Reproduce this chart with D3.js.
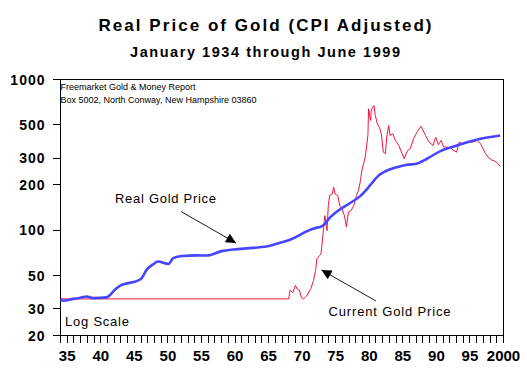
<!DOCTYPE html>
<html>
<head>
<meta charset="utf-8">
<script src="https://cdn.jsdelivr.net/npm/d3@7"></script>
<style>
  html, body { margin: 0; padding: 0; background: #fff; }
  svg { display: block; font-family: "Liberation Sans", Arial, sans-serif; }
</style>
</head>
<body>
<svg id="chart" width="527" height="382"></svg>
<script>
// ---- Data ----
const realYears = [1934.0, 1934.4, 1935.9, 1936.8, 1937.9, 1938.8, 1940.9, 1941.4, 1941.9, 1942.9,
  1943.8, 1945.6, 1946.1, 1946.8, 1947.8, 1948.5, 1950.1, 1950.8, 1952.1, 1954.3,
  1955.8, 1958.0, 1959.8, 1962.7, 1965.2, 1966.2, 1968.2, 1969.7, 1970.2, 1972.2,
  1972.7, 1973.4, 1973.9, 1974.9, 1975.7, 1977.2, 1978.7, 1979.9, 1981.4, 1982.4,
  1984.1, 1985.6, 1986.9, 1988.6, 1990.6, 1992.6, 1994.6, 1996.6, 1999.5];
const realValues = [35, 34, 35, 35.5, 36.3, 35.4, 35.8, 37.2, 39.4, 42.9,
  44.2, 46.4, 48.1, 54.3, 59.3, 61.9, 59.7, 65.3, 67.4, 68,
  67.9, 72.6, 74.4, 76.3, 78.8, 81.3, 86.5, 93, 96, 104,
  105, 110, 118, 130, 138, 152, 169, 193, 231, 246,
  262, 272, 275, 298, 335, 359, 384, 404, 425];

const currentYears = [1934.0, 1968.0, 1968.2, 1968.6, 1969.0, 1969.3, 1969.6, 1969.9, 1970.2, 1970.7,
  1971.3, 1971.7, 1972.0, 1972.2, 1972.6, 1972.8, 1973.0, 1973.1, 1973.3, 1973.4,
  1973.7, 1973.9, 1974.1, 1974.5, 1974.7, 1974.9, 1975.3, 1975.6, 1975.9, 1976.3,
  1976.6, 1976.9, 1977.3, 1977.7, 1978.1, 1978.4, 1978.7, 1978.9, 1979.4, 1979.8,
  1979.9, 1980.2, 1980.3, 1980.5, 1980.7, 1980.9, 1981.2, 1981.5, 1981.8, 1982.1,
  1982.4, 1982.6, 1982.9, 1983.1, 1983.5, 1983.9, 1984.4, 1984.9, 1985.2, 1985.7,
  1986.1, 1986.6, 1987.1, 1987.7, 1988.4, 1988.9, 1989.5, 1989.9, 1990.3, 1990.7,
  1991.1, 1991.4, 1992.1, 1992.6, 1993.0, 1993.4, 1993.9, 1994.6, 1995.4, 1996.1,
  1996.6, 1997.2, 1997.7, 1998.2, 1998.7, 1999.1, 1999.5];
const currentValues = [35, 35, 40, 38.5, 43, 40.4, 40, 35.6, 35, 36.8,
  41, 46.4, 54, 64.6, 68, 69.5, 83, 92.5, 116, 125,
  99, 146, 170, 174, 193, 174, 170, 146, 139, 125,
  105, 132, 135, 146, 170, 184, 214, 249, 305, 425,
  639, 535, 623, 655, 672, 577, 508, 483, 436, 329,
  322, 414, 495, 425, 436, 394, 365, 322, 298, 338,
  347, 404, 447, 490, 425, 384, 365, 414, 369, 394,
  356, 356, 352, 338, 329, 384, 374, 384, 384, 394,
  374, 329, 305, 293, 287, 279, 265];

const yTickValues = [20, 30, 50, 100, 200, 300, 500, 1000];
const xLabelYears = [1935, 1940, 1945, 1950, 1955, 1960, 1965, 1970, 1975, 1980, 1985, 1990, 1995, 2000];
const xLabelTexts = ["35", "40", "45", "50", "55", "60", "65", "70", "75", "80", "85", "90", "95", "2000"];

const titleText = "Real Price of Gold (CPI Adjusted)";
const subtitleText = "January 1934 through June 1999";
const sourceLines = ["Freemarket Gold & Money Report", "Box 5002, North Conway, New Hampshire 03860"];

// ---- Layout ----
const svg = d3.select("#chart");
const plotLeft = 60.5, plotRight = 503.5, plotTop = 79.5, plotBottom = 335.5;

const x = d3.scaleLinear().domain([1934, 2000]).range([plotLeft, plotRight]);
const y = d3.scaleLog().domain([20, 1000]).range([plotBottom, plotTop]);

// Titles
svg.append("text").attr("x", 265).attr("y", 31)
  .attr("text-anchor", "middle").attr("font-size", 17).attr("font-weight", "bold")
  .attr("textLength", 333).attr("lengthAdjust", "spacing")
  .text(titleText);
svg.append("text").attr("x", 265).attr("y", 57)
  .attr("text-anchor", "middle").attr("font-size", 14.5).attr("font-weight", "bold")
  .attr("textLength", 270).attr("lengthAdjust", "spacing")
  .text(subtitleText);

// Frame
svg.append("rect").attr("x", plotLeft).attr("y", plotTop)
  .attr("width", plotRight - plotLeft).attr("height", plotBottom - plotTop)
  .attr("fill", "none").attr("stroke", "#000").attr("stroke-width", 1);

// Y axis
const yAxis = d3.axisLeft(y).tickValues(yTickValues).tickFormat(d3.format("d"))
  .tickSize(8).tickPadding(7).offset(0);
const gy = svg.append("g").attr("transform", `translate(${plotLeft},0)`).call(yAxis);
gy.select(".domain").remove();
gy.selectAll(".tick line").attr("stroke", "#000").attr("shape-rendering", "crispEdges");
gy.selectAll(".tick text").attr("font-size", 14).attr("font-weight", "bold")
  .attr("font-family", "Liberation Sans, Arial, sans-serif").attr("fill", "#000")
  .attr("letter-spacing", 1).attr("dy", "0.36em");

// X axis: a tick each year, label every 5 years
const yearTicks = d3.range(1934, 2001);
const labelMap = new Map(xLabelYears.map((yr, i) => [yr, xLabelTexts[i]]));
const xAxis = d3.axisBottom(x).tickValues(yearTicks)
  .tickFormat(d => labelMap.has(d) ? labelMap.get(d) : "")
  .tickSize(7).tickPadding(8).offset(0);
const gx = svg.append("g").attr("transform", `translate(0,${plotBottom})`).call(xAxis);
gx.select(".domain").remove();
gx.selectAll(".tick line").attr("stroke", "#000").attr("stroke-width", 1)
  .attr("shape-rendering", "crispEdges");
gx.selectAll(".tick text").attr("font-size", 15).attr("font-weight", "bold")
  .attr("font-family", "Liberation Sans, Arial, sans-serif").attr("fill", "#000");

// Lines
const currentData = currentYears.map((yr, i) => [yr, currentValues[i]]);
const realData = realYears.map((yr, i) => [yr, realValues[i]]);

svg.append("path").datum(currentData)
  .attr("d", d3.line().x(d => x(d[0])).y(d => y(d[1])))
  .attr("fill", "none")
  .attr("stroke", "#f2143c").attr("stroke-width", 1).attr("stroke-linejoin", "round");

svg.append("path").datum(realData)
  .attr("d", d3.line().x(d => x(d[0])).y(d => y(d[1])).curve(d3.curveMonotoneX))
  .attr("fill", "none")
  .attr("stroke", "#4646ff").attr("stroke-width", 2.6).attr("stroke-linejoin", "round");

// Source text
sourceLines.forEach((t, i) => {
  svg.append("text").attr("x", plotLeft).attr("y", 90 + i * 13.3)
    .attr("font-size", 9).attr("fill", "#000").text(t);
});

// Annotations
svg.append("defs").append("marker")
  .attr("id", "arrow").attr("viewBox", "0 0 10 10")
  .attr("refX", 10).attr("refY", 5)
  .attr("markerWidth", 14).attr("markerHeight", 10)
  .attr("markerUnits", "userSpaceOnUse")
  .attr("orient", "auto")
  .append("path").attr("d", "M0,0 L10,5 L0,10 Z").attr("fill", "#000");

function annotate(label, lx, ly, len, x1, y1, x2, y2) {
  svg.append("text").attr("x", lx).attr("y", ly)
    .attr("font-size", 13).attr("fill", "#000")
    .attr("textLength", len).attr("lengthAdjust", "spacing").text(label);
  svg.append("line").attr("x1", x1).attr("y1", y1).attr("x2", x2).attr("y2", y2)
    .attr("stroke", "#000").attr("stroke-width", 0.9).attr("marker-end", "url(#arrow)");
}
annotate("Real Gold Price", 115, 202.5, 101, 181, 211.5, 236, 243);
annotate("Current Gold Price", 328.5, 315.5, 122, 376, 301, 321.5, 270);

svg.append("text").attr("x", 65).attr("y", 326)
  .attr("font-size", 13).attr("fill", "#000")
  .attr("textLength", 64).attr("lengthAdjust", "spacing").text("Log Scale");
</script>
</body>
</html>
